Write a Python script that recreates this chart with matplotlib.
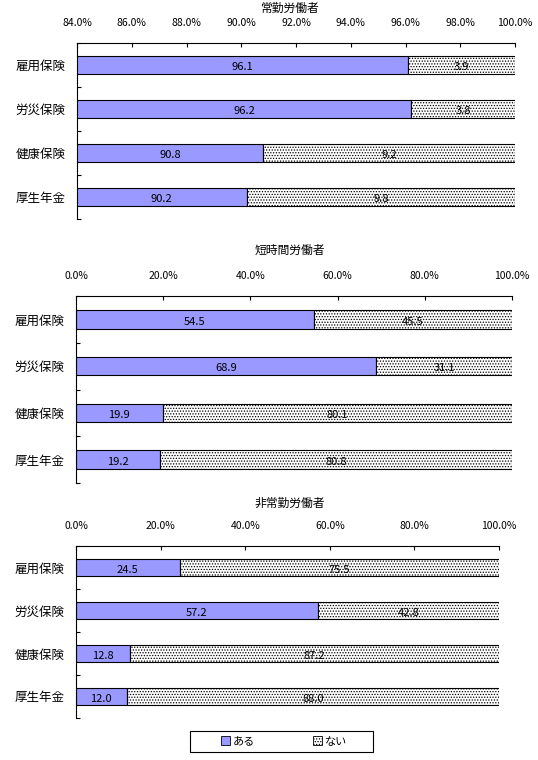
import matplotlib
matplotlib.use("Agg")
import matplotlib.pyplot as plt
from matplotlib.patches import Patch, Rectangle
from matplotlib.ticker import FixedLocator

plt.rcParams["font.family"] = ["Noto Sans CJK JP", "DejaVu Sans"]
plt.rcParams["hatch.linewidth"] = 0.6

categories = ["雇用保険", "労災保険", "健康保険", "厚生年金"]
titles = ["常勤労働者", "短時間労働者", "非常勤労働者"]

aru_joukin = [96.1, 96.2, 90.8, 90.2]
nai_joukin = [3.9, 3.8, 9.2, 9.8]
aru_tanjikan = [54.5, 68.9, 19.9, 19.2]
nai_tanjikan = [45.5, 31.1, 80.1, 80.8]
aru_hijoukin = [24.5, 57.2, 12.8, 12.0]
nai_hijoukin = [75.5, 42.8, 87.2, 88.0]

xticks_joukin = [84, 86, 88, 90, 92, 94, 96, 98, 100]
xticks_other = [0, 20, 40, 60, 80, 100]

BLUE = "#9999ff"
W, H = 538, 760

fig = plt.figure(figsize=(W / 100, H / 100), dpi=100)


def draw_panel(rect_px, title, title_y, aru, nai, xmin, xticks):
    left, right, top, bottom = rect_px
    ax = fig.add_axes([left / W, 1 - bottom / H, (right - left) / W, (bottom - top) / H])
    ys = list(range(len(categories)))
    ax.barh(ys, aru, height=0.4, color=BLUE, edgecolor="black", linewidth=0.8)
    ax.barh(ys, nai, left=aru, height=0.4, color="white", edgecolor="black",
            linewidth=0.8, hatch="......")
    for y, a, n in zip(ys, aru, nai):
        ax.text((xmin + a) / 2, y + 0.05, f"{a:.1f}", ha="center", va="center", fontsize=8)
        ax.text(a + n / 2, y + 0.05, f"{n:.1f}", ha="center", va="center", fontsize=8)
    ax.set_xlim(xmin, 100)
    ax.set_ylim(len(categories) - 0.5, -0.5)
    ax.xaxis.tick_top()
    ax.set_xticks(xticks)
    ax.set_xticklabels([f"{t:.1f}%" for t in xticks], fontsize=7.5)
    ax.tick_params(axis="x", direction="in", length=3, width=0.8, pad=11)
    ax.yaxis.set_major_locator(FixedLocator([y - 0.5 for y in range(len(categories) + 1)]))
    ax.yaxis.set_major_formatter(plt.NullFormatter())
    ax.yaxis.set_minor_locator(FixedLocator(ys))
    ax.set_yticklabels(categories, minor=True, fontsize=9)
    ax.tick_params(axis="y", which="minor", length=0, pad=8)
    ax.tick_params(axis="y", which="major", direction="in", length=3, width=0.8)
    for side in ("right", "bottom"):
        ax.spines[side].set_visible(False)
    for side in ("top", "left"):
        ax.spines[side].set_linewidth(0.8)
    fig.text(290 / W, 1 - title_y / H, title, ha="center", va="center", fontsize=8.5)
    return ax


draw_panel((77, 515, 43, 219), titles[0], 8, aru_joukin, nai_joukin, 84, xticks_joukin)
draw_panel((76, 512, 296, 483), titles[1], 250, aru_tanjikan, nai_tanjikan, 0, xticks_other)
draw_panel((76, 499, 546, 718), titles[2], 503, aru_hijoukin, nai_hijoukin, 0, xticks_other)

# legend box
fig.add_artist(Rectangle((190 / W, 1 - 752 / H), 183 / W, 21 / H, transform=fig.transFigure,
                         facecolor="white", edgecolor="black", linewidth=0.8))
handles = [
    Patch(facecolor=BLUE, edgecolor="black", linewidth=0.6, label="ある"),
    Patch(facecolor="white", edgecolor="black", linewidth=0.6, hatch="......", label="ない"),
]
fig.legend(handles=handles, ncol=2, loc="center", bbox_to_anchor=(284 / W, 1 - 741.5 / H),
           fontsize=8, frameon=False, handlelength=0.8, handleheight=0.8,
           handletextpad=0.3, borderpad=0, columnspacing=5.2)

fig.savefig("out.png", dpi=100)
